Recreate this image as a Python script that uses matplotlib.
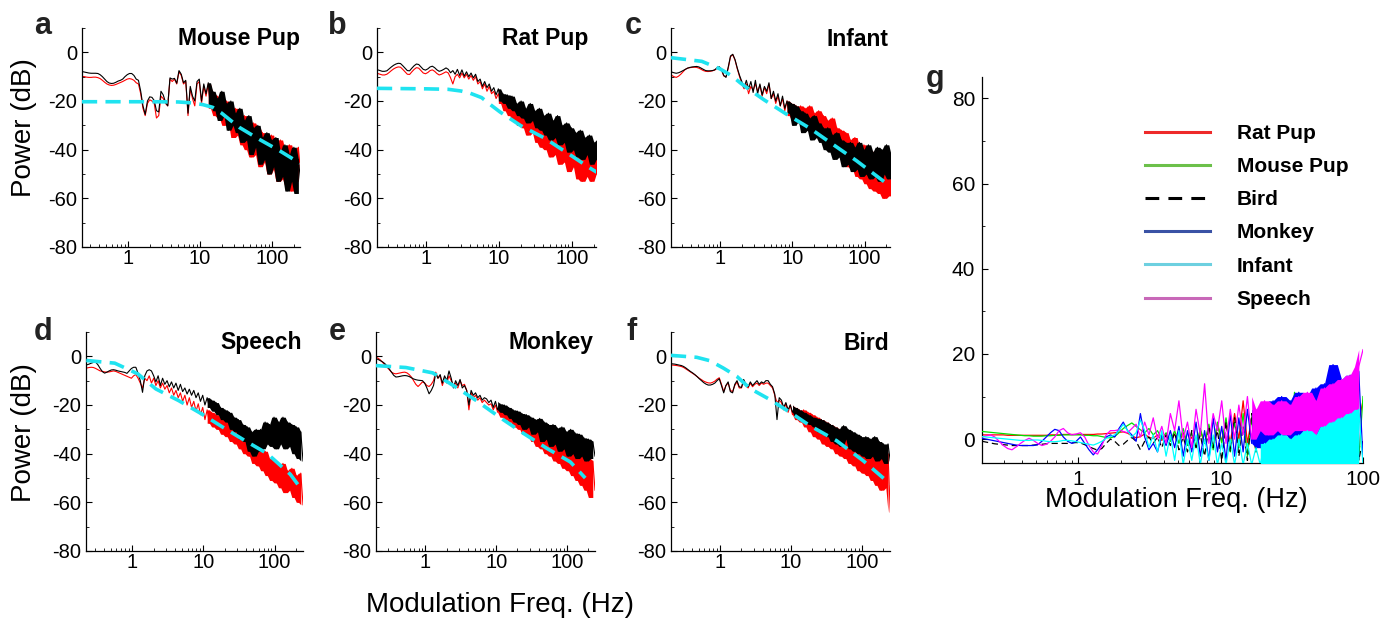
import numpy as np
import matplotlib
matplotlib.use("Agg")
import matplotlib.pyplot as plt
from matplotlib.lines import Line2D
from matplotlib.ticker import FixedLocator, LogLocator, MultipleLocator, NullFormatter

plt.rcParams['font.family'] = ['Liberation Sans', 'DejaVu Sans']
plt.rcParams['axes.unicode_minus'] = False

# ---------------- data ----------------
# frequency grid of panels a-f (Hz), log spaced 0.2 .. 250
FREQ_AF = np.geomspace(0.2, 250, 100)

MOUSE_BLACK = [-7.5, -7.7, -7.9, -8.1, -8.3, -8.5, -8.6, -8.6, -8.6, -8.7,
               -9.2, -10, -11, -12, -12.6, -12.8, -12.7, -12.3, -11.8, -11.5,
               -11, -10, -9.2, -8.7, -8.7, -9.5, -11, -11.5, -16, -22,
               -25.5, -20, -18.3, -18.5, -19.8, -24, -24.5, -16, -17.5, -20.5,
               -22, -10.5, -11, -10.7, -12.7, -7.5, -9, -12.5, -11.5, -25,
               -14, -18, -20, -12, -11, -20, -13, -17, -12.5, -22,
               -16, -24, -19, -28, -16, -26, -21, -32, -20, -30,
               -25, -33, -23, -37, -28, -36, -26, -42, -31, -39,
               -30, -46, -35, -44, -33, -50, -36, -47, -35, -53,
               -41, -51, -38, -57, -42, -53, -39, -58, -44, -53]
MOUSE_RED = [-9.5, -9.7, -9.9, -10, -10.2, -10.3, -10.3, -10.2, -10.2, -10.4,
             -10.8, -11.5, -12.3, -13, -13.4, -13.6, -13.5, -13.2, -12.8, -12.4,
             -12, -11.5, -11, -10.8, -11, -11.5, -12.5, -13, -17, -23,
             -26, -21, -19.5, -20, -21, -27, -26, -18, -19, -21,
             -22, -11, -12, -11, -13, -8, -9.5, -13, -12, -26,
             -15, -19, -22, -13, -12, -21, -14, -18, -13, -23,
             -17, -26, -18, -27, -19, -30, -20, -29, -24, -35,
             -23, -34, -28, -38, -26, -40, -31, -43, -29, -42,
             -31, -47, -33, -45, -36, -50, -34, -48, -38, -53,
             -36, -52, -40, -55, -38, -57, -41, -53, -39, -50]
MOUSE_FIT_F = [0.23, 2, 5, 8, 11, 15, 20, 35, 67, 127, 245]
MOUSE_FIT_DB = [-20.3, -20.3, -20.4, -20.8, -21.5, -22.6, -25, -30.8, -35.8, -40.4, -45.6]

RAT_BLACK = [-7, -7.2, -7.5, -7.8, -7.8, -7.6, -6.8, -6, -5.3, -4.8,
             -4.5, -4.6, -5.5, -6.5, -7.5, -7.6, -6.5, -5.5, -4.8, -5,
             -6, -7, -7.3, -6.8, -6, -5.7, -6.3, -7.2, -7.8, -7.5,
             -7, -6.4, -7, -8.4, -7.5, -9, -7, -9.5, -7.2, -9.8,
             -8, -10, -8.5, -10.5, -9, -12, -11, -14, -12, -14.5,
             -13, -16, -14.5, -17.5, -15, -20, -17, -21, -17.5, -23,
             -18, -24, -21, -26, -20, -27, -23, -29, -21, -28,
             -24, -31, -23, -32, -26, -34, -25, -36, -28, -35,
             -26, -38, -30, -37, -29, -41, -31, -40, -33, -43,
             -32, -44, -35, -42, -34, -46, -37, -44, -36, -45]
RAT_RED = [-8.5, -8.7, -9, -9.3, -9.3, -9, -8.3, -7.5, -6.8, -6.3,
           -6, -6.1, -7, -8, -9, -9.1, -8, -7, -6.3, -6.5,
           -7.5, -8.5, -8.8, -8.3, -7.5, -7.2, -7.8, -8.7, -9.3, -9,
           -8.5, -8, -8.5, -10.5, -13, -10, -9, -10.5, -8.5, -10.5,
           -9, -11, -9.5, -11.5, -10, -13, -12, -15, -13, -16,
           -14, -17, -16, -19, -17, -21, -19, -24, -20, -26,
           -21, -28, -22, -30, -25, -31, -24, -34, -26, -33,
           -28, -37, -27, -39, -31, -40, -30, -43, -33, -42,
           -32, -46, -35, -45, -37, -49, -36, -47, -40, -52,
           -39, -53, -42, -51, -41, -53, -44, -50, -43, -51]
RAT_FIT_F = [0.21, 1, 2, 3, 4, 5.75, 8, 10.3, 20, 42, 88, 185, 222]
RAT_FIT_DB = [-14.8, -15, -15.2, -15.9, -16.8, -18.6, -22, -24.5, -30.2, -35.2, -41.5, -47.9, -49.3]

INFANT_BLACK = [-8, -8.1, -8.4, -8.6, -8.4, -8, -7.5, -7, -6.5, -6.2,
                -6, -5.9, -5.8, -6, -6.5, -7, -7.5, -7.6, -7.6, -7.5,
                -7.2, -6.4, -5.9, -7, -9.5, -10.3, -6, -1.5, -0.8, -3,
                -6.5, -9.5, -12, -14.5, -11.5, -15, -12, -16.5, -11.5, -17,
                -13, -17.5, -14, -16, -12.5, -19, -16, -20, -17, -22,
                -18, -23, -20, -25, -21, -30, -22, -28, -24, -33,
                -25, -32, -27, -36, -26, -35, -29, -37, -31, -40,
                -31, -41, -34, -44, -33, -43, -36, -47, -37, -46,
                -37, -49, -39, -48, -37, -51, -40, -50, -38, -52,
                -41, -51, -39, -53, -40, -50, -38, -52, -42, -49]
INFANT_RED = [-9, -9.5, -10, -10.3, -9.8, -9, -8, -7, -6.5, -6.3,
              -6.2, -6.1, -6.2, -6.5, -7, -7.5, -7.8, -7.9, -7.8, -7.6,
              -7.3, -6.6, -6.2, -7.3, -9.7, -10, -6.5, -1.8, -1, -3.2,
              -6.8, -10, -13, -15, -13, -17, -14, -15.5, -13, -16,
              -13.5, -18, -14.5, -17, -13, -19, -17, -21, -18, -22,
              -19, -24, -20, -26, -21, -28, -22, -29, -22, -30,
              -23, -31, -22, -33, -25, -34, -24, -36, -26, -38,
              -28, -38, -27, -41, -31, -42, -32, -45, -33, -47,
              -36, -48, -35, -51, -39, -52, -38, -54, -42, -56,
              -41, -57, -44, -58, -43, -60, -46, -59, -45, -57]
INFANT_FIT_F = [0.21, 0.56, 1.0, 1.45, 1.9, 2.6, 4.06, 8.2, 17.5, 36.8, 77, 171, 224]
INFANT_FIT_DB = [-2.2, -3.7, -6.8, -9.6, -12.5, -15.5, -19.5, -25.3, -31.2, -37.9, -44.5, -52.3, -54.8]

SPEECH_BLACK = [-4, -3.8, -3.5, -3.2, -2.8, -2.5, -2.4, -3.5, -5, -6.3,
                -6.9, -6.5, -6, -5.6, -5.5, -5.7, -6, -6.2, -6.4, -6.6,
                -7, -6, -5, -4.5, -4.5, -7, -10, -14.8, -8, -6,
                -5.5, -6, -8, -10.5, -8, -12, -9, -11.5, -10, -12.5,
                -10.5, -13, -11, -14, -11.5, -14.5, -13, -15.5, -13.5, -16,
                -14, -17, -15, -18.5, -16, -20, -17, -21, -18, -22.5,
                -19, -24, -21, -26, -22, -27, -23, -30, -25, -31,
                -26, -34, -28, -35, -29, -39, -31, -41, -30, -39,
                -30, -38, -27, -36, -28, -37, -25, -38, -27, -36,
                -25, -38, -27, -37, -28, -40, -29, -42, -31, -43]
SPEECH_RED = [-5.2, -5, -4.8, -4.6, -4.5, -4.6, -5, -5.5, -6, -6.2,
              -6.4, -6.5, -6.4, -6.2, -6, -6.2, -6.6, -7, -7.4, -7.8,
              -8.2, -8.6, -9, -8, -7.5, -9, -11, -13, -9, -10,
              -8, -11, -9, -12, -10, -13, -11, -13.5, -12, -15,
              -13, -16, -14, -17, -15, -18.5, -16, -20, -17, -21,
              -18.5, -22.5, -19.5, -24, -21, -26, -22, -27.5, -23, -29,
              -24, -30, -25, -32, -26, -33, -27, -35, -28, -36,
              -29, -38, -32, -40, -33, -41, -35, -44, -36, -45,
              -38, -47, -39, -49, -42, -51, -43, -52, -45, -54,
              -44, -56, -47, -55, -46, -58, -49, -60, -48, -61]
SPEECH_FIT_F = [0.227, 0.57, 1.2, 2.15, 4.5, 9.5, 18.9, 37.6, 79, 166, 216]
SPEECH_FIT_DB = [-1.7, -2.8, -7.2, -13.4, -18.2, -23.7, -29.2, -34.5, -40, -48.5, -53]

MONKEY_BLACK = [-1, -1.3, -1.8, -2.3, -3, -4, -5.2, -6.5, -7.8, -8.5,
                -8.4, -8.2, -8, -7.9, -8, -8.3, -8.8, -9.3, -9.6, -9.8,
                -9.9, -10, -11, -13, -15.4, -14, -12, -7, -9, -7.5,
                -11, -8, -10, -6, -9, -13, -10, -12, -9.5, -13,
                -12, -14, -20, -14, -16, -15, -17, -16, -18, -17,
                -17.5, -19, -18, -21, -18.5, -22, -19.5, -23, -20, -24,
                -21, -25.5, -22, -27, -22.5, -28, -23.5, -30, -24, -29,
                -25, -32, -26, -31, -25.5, -35, -27, -34, -28, -37,
                -28, -36, -29.5, -39, -29, -38, -31, -41, -30, -40,
                -31.5, -42, -32, -41, -33.5, -43, -34, -42, -35, -41]
MONKEY_RED = [-0.3, -0.8, -1.5, -2.5, -3.5, -4.5, -5.5, -6.5, -7, -7.2,
              -7, -6.8, -6.6, -6.5, -6.8, -7.5, -8.5, -10, -11.5, -12.4,
              -11.5, -10.5, -11, -12, -12.4, -11.5, -10, -6.5, -9, -8,
              -12, -9, -11, -8, -10, -12, -11, -13, -10, -12,
              -11.5, -14, -22, -15, -17, -16, -18, -17, -19, -18,
              -19, -20, -19.5, -22, -20, -23, -21, -25, -22, -26,
              -23, -27, -24, -29, -25, -30, -26, -32, -27, -33,
              -28, -35, -29, -37, -30, -38, -31, -40, -33, -41,
              -33, -43, -35, -44, -36, -46, -37, -47, -38, -49,
              -39, -51, -40, -53, -41, -55, -42, -58, -43, -55]
MONKEY_FIT_F = [0.2, 0.53, 1.27, 2.58, 5.25, 11.3, 24.2, 52, 112, 182]
MONKEY_FIT_DB = [-3.8, -4.6, -6.8, -12.3, -18.2, -25.1, -31.6, -37.8, -43.4, -50]

BIRD_BLACK = [-3, -3.1, -3.2, -3.4, -3.6, -3.8, -4.2, -4.8, -5.5, -6.2,
              -6.8, -7.5, -8.3, -9.2, -10, -10.8, -11.4, -11.8, -11.8, -11.5,
              -11, -10, -9.2, -12, -15, -12, -10.5, -14.5, -15, -11.5,
              -10, -12.5, -12.8, -9.5, -11.5, -12.5, -10.5, -12, -11, -10,
              -11.5, -10.5, -11, -10, -10, -11.5, -12.5, -15.5, -26, -17,
              -18, -21, -19, -22, -20, -23, -21, -25, -22, -26,
              -23, -27, -24, -28, -25, -29, -25.5, -31, -26, -32,
              -27, -33, -28, -35, -29, -36, -30, -37, -28.5, -34,
              -30, -38, -31, -39, -32, -40, -33, -41, -33, -42,
              -34, -41, -33, -43, -35, -42, -36, -44, -36, -43]
BIRD_RED = [-3.5, -3.6, -3.7, -3.8, -4, -4.2, -4.6, -5.2, -5.8, -6.4,
            -7, -7.6, -8.3, -9, -9.6, -10.2, -10.6, -10.9, -11, -10.7,
            -10.2, -9.4, -8.8, -11.5, -14.5, -12, -11, -14, -14.5, -12,
            -10.5, -13, -13, -10, -12, -13, -11, -12.5, -11.5, -11,
            -12, -11, -11.5, -11, -11, -12, -13, -16, -19, -18,
            -19, -22, -19.5, -23, -20, -24, -21, -26, -22, -27,
            -22, -29, -23, -31, -24, -33, -25, -34, -26, -36,
            -27, -37, -28, -38, -29, -40, -30, -41, -31, -42,
            -32, -44, -33, -45, -34, -47, -35, -48, -36, -49,
            -37, -51, -38, -53, -38, -55, -39, -54, -40, -64]
BIRD_FIT_F = [0.204, 0.47, 0.72, 1.11, 1.72, 2.64, 5.0, 9.8, 18.7, 44, 104, 248]
BIRD_FIT_DB = [0.4, -0.4, -1.8, -4.8, -8.2, -13.2, -17.7, -23.1, -28.6, -34.7, -42.9, -52.4]

PANEL_LETTERS = ['a', 'b', 'c', 'd', 'e', 'f']
PANEL_TITLES = ['Mouse Pup', 'Rat Pup', 'Infant', 'Speech', 'Monkey', 'Bird']
Y_TICKS_AF = [-80, -60, -40, -20, 0]
X_TICKS = [1, 10, 100]
X_TICK_LABELS = ['1', '10', '100']

# panel g: difference spectra, log-spaced grid 0.21 .. 100 Hz
FREQ_G = np.geomspace(0.21, 100, 90)
G_LABELS = ['Rat Pup', 'Mouse Pup', 'Bird', 'Monkey', 'Infant', 'Speech']
G_RAT = [1, 1, 1, 1, 1, 1, 0.9, 0.9, 0.9, 0.9,
         0.9, 0.9, 0.9, 0.9, 0.9, 0.9, 1, 1, 1, 1.1,
         1.1, 1.1, 1.1, 1.1, 1.1, 1.1, 1.1, 1.2, 1.2, 1.3,
         1.4, 1.5, 1.6, 1.7, 1.4, 0.8, 0.3, 0.6, 1.2, 0.4,
         0.2, 1.0, -0.3, 0.8, -0.5, 1.2, -0.8, 1.5, -1.2, 0.5,
         -1.5, 2, -1, 3, -2, 3.5, -0.5, 4, -1, 6,
         0, 9, -1, 5, -3, 6, -2, 7, -1, 8,
         -2, 7, 0, 8, -1, 9, 1, 8, -2, 10,
         2, 10, 1, 11, 3, 12, 2, 11, 4, 9]
G_MOUSE = [1.8, 1.7, 1.6, 1.5, 1.4, 1.3, 1.2, 1.1, 1.0, 0.9,
           0.8, 0.8, 0.7, 0.7, 0.7, 0.8, 0.8, 0.9, 0.9, 1.0,
           1.0, 1.0, 1.0, 1.0, 0.9, 0.9, 0.8, 0.8, 0.6, 0.4,
           0.3, 0.6, 1.5, 2.5, 3.2, 3.8, 3.0, 2.2, 1.5, 2.5,
           1.0, 2, 0, 1.5, -0.5, 2, -1, 2.5, -1.5, 1.5,
           -2, 2.5, -1, 3.5, -2.5, 4, -1, 5, -3, 4,
           -2, 6, -4, 5, -3, 7, -5, 8, -2, 6,
           -4, 8, -3, 11, -5, 9, -2, 10, -4, 12,
           -3, 13, -1, 15, -5, 12, 0, 14, -5, 10]
G_BIRD = [-0.5, -0.7, -0.9, -1.1, -1.2, -1.3, -1.4, -1.5, -1.5, -1.5,
          -1.5, -1.5, -1.4, -1.3, -1.2, -1.1, -1.0, -1.0, -1.0, -1.0,
          -1.0, -0.9, -0.8, -0.9, -1.3, -1.8, -2.2, -2.6, -2.2, -1.0,
          0.0, -0.5, -1.5, -1.2, -0.3, 0.4, -0.5, -2.5, -0.5, 0.5,
          -1, 0.5, -2, 1, -1.5, 1.5, -2.5, 0.5, -3, 2,
          -2, 1, -4, 3, -2, 2, -5, 4, -3, 5,
          -4, 3, -5, 6, -3, 8, -5, 5, -4, 9,
          -5, 7, -3, 9, -5, 8, -4, 10, -5, 11,
          -4, 12, -5, 11, -3, 13, -5, 12, -5, 0]
G_MONKEY = [0.2, 0, -0.2, -0.4, -0.6, -0.8, -1.0, -1.2, -1.4, -1.5,
            -1.5, -1.5, -1.5, -1.3, -0.5, 0.5, 1.5, 2.3, 2.0, 0.5,
            -0.5, -1.0, -0.5, 0.5, -1.0, -2.5, -3.7, -2.5, -1.0, 0.5,
            1.0, 0.5, 2.5, 4.0, 2.0, 1.0, -0.5, 6.0, 0.5, -2.5,
            -1.0, -3, 1, -1.5, 2, -2, 3, -4, 2, -3,
            4, -4, 2, -5, 5, -3, 3, -5, 6, -4,
            5, -3, 7, -1, 6, -2, 8, 0, 9, -1,
            10, 1, 9, 0, 11, 2, 10, 1, 12, 2,
            13, 2, 17.5, 3, 14, 1, 15, 2, 16, -5]
G_INFANT = [0.6, 0.5, 0.4, 0.3, 0.2, 0.1, 0, -0.1, -0.2, -0.3,
            -0.3, -0.3, -0.2, -0.2, -0.3, -0.5, -0.6, -0.6, -0.5, -0.3,
            -0.3, -0.4, -0.6, -0.8, -1.0, -1.2, -1.4, -1.0, -0.5, 0.2,
            0.6, 1.0, 2.0, 3.5, 2.0, 0.5, 1.5, 4.5, 2.0, -2.0,
            1, -3, 2, -4, 1, -5, 2, -6, 0, -5,
            1, -6, 0, -5, 1, -6, -1, -6, 0, -6,
            0, -6, -1, -6, -2, -6, -1, -6, 0, -6,
            1, -6, 0, -6, 1, -6, 2, -6, 1, -6,
            3, -6, 4, -6, 5, -6, 6, -6, 7, -6]
G_SPEECH = [0.5, 0.8, 1.0, 0.5, -0.5, -1.5, -2.2, -2.5, -1.8, -1.0,
            -0.3, 0.2, -0.3, -1.0, -1.5, -1.2, -0.5, 0.5, 2.0, 2.5,
            1.5, 1.0, 1.2, 1.5, 0.5, -1.5, -3.0, -3.5, -1.5, 1.0,
            2.0, 2.0, 2.2, 1.8, 1.5, 2.5, 3.5, 0.5, 4, 1,
            5, 0, 3, -1, 6, 2, 9, 0, 4, -2,
            7, 1, 13, -1, 6, 2, 9, -1, 7, 0,
            8, 1, 10, 0, 7, 2, 9, 1, 8, 2,
            9, 1, 8, 2, 10, 2, 11, 1, 9, 3,
            12, 2, 13, 3, 14, 2, 15, 4, 17, 21]
Y_TICKS_G = [0, 20, 40, 60, 80]

# ---------------- figure ----------------
W, H = 1393, 619
fig = plt.figure(figsize=(W / 100, H / 100), dpi=100)


def px_axes(l, t, r, b):
    return fig.add_axes([l / W, 1 - b / H, (r - l) / W, (b - t) / H])


def style_axes(ax, fs, pad_x, pad_y):
    for s in ('top', 'right'):
        ax.spines[s].set_visible(False)
    for s in ('left', 'bottom'):
        ax.spines[s].set_linewidth(0.9)
    ax.set_xscale('log')
    ax.xaxis.set_major_locator(FixedLocator(X_TICKS))
    ax.set_xticklabels(X_TICK_LABELS)
    ax.xaxis.set_minor_locator(LogLocator(base=10, subs=np.arange(2, 10)))
    ax.xaxis.set_minor_formatter(NullFormatter())
    ax.yaxis.set_minor_locator(MultipleLocator(10))
    ax.tick_params(which='both', direction='in', labelsize=fs)
    ax.tick_params(which='major', length=4, width=0.8)
    ax.tick_params(which='minor', length=2.5, width=0.6)
    ax.tick_params(axis='x', pad=pad_x)
    ax.tick_params(axis='y', pad=pad_y)


def noisy_trace(ax, x, y, start, color, lw, z, **kw):
    """Plot a trace; where it is dense noise, shade between neighbouring extremes."""
    y = np.asarray(y, dtype=float)
    ax.plot(x, y, color=color, lw=lw, zorder=z, **kw)
    if start is None:
        return
    seg = y[start - 1:]
    hi = np.maximum(np.maximum(seg[:-2], seg[1:-1]), seg[2:])
    lo = np.minimum(np.minimum(seg[:-2], seg[1:-1]), seg[2:])
    ax.fill_between(x[start:start + len(hi)], lo, hi, color=color, lw=0, zorder=z)


boxes = [(82, 28, 300, 247), (377, 28, 596, 247), (671, 28, 890, 247),
         (86, 332, 303, 551), (376, 332, 595, 551), (671, 332, 890, 551)]
xlims = [(0.23, 245), (0.21, 215), (0.21, 225), (0.225, 250), (0.2, 250), (0.204, 248)]
blacks = [MOUSE_BLACK, RAT_BLACK, INFANT_BLACK, SPEECH_BLACK, MONKEY_BLACK, BIRD_BLACK]
reds = [MOUSE_RED, RAT_RED, INFANT_RED, SPEECH_RED, MONKEY_RED, BIRD_RED]
fits = [(MOUSE_FIT_F, MOUSE_FIT_DB), (RAT_FIT_F, RAT_FIT_DB), (INFANT_FIT_F, INFANT_FIT_DB),
        (SPEECH_FIT_F, SPEECH_FIT_DB), (MONKEY_FIT_F, MONKEY_FIT_DB), (BIRD_FIT_F, BIRD_FIT_DB)]
dense_start = [58, 54, 52, 56, 55, 55]
title_right = [300, 588, 889, 302, 594, 889]
letter_pos = [(43, 34), (337, 34), (633, 34), (43, 340), (337, 340), (632, 340)]

for k in range(6):
    l, t, r, b = boxes[k]
    ax = px_axes(l, t, r, b)
    noisy_trace(ax, FREQ_AF, reds[k], dense_start[k], '#ff0000', 0.8, 2)
    noisy_trace(ax, FREQ_AF, blacks[k], dense_start[k], 'black', 0.8, 3)
    ax.plot(fits[k][0], fits[k][1], color='#1fe3f0', lw=2.6,
            linestyle=(0, (4.2, 2.3)), zorder=4)
    ax.set_xlim(*xlims[k])
    ax.set_ylim(-80, 10)
    ax.set_yticks(Y_TICKS_AF)
    style_axes(ax, 14.5, 1.5, 3.5)
    fig.text(title_right[k] / W, 1 - (t + 11) / H, PANEL_TITLES[k], ha='right', va='center',
             fontsize=16.5, fontweight='bold')
    fig.text(letter_pos[k][0] / W, 1 - letter_pos[k][1] / H, PANEL_LETTERS[k], ha='center',
             va='baseline', fontsize=22, fontweight='bold', color='#222222')

fig.text(24 / W, 1 - 128 / H, 'Power (dB)', rotation=90, ha='center', va='center', fontsize=20)
fig.text(24 / W, 1 - 433 / H, 'Power (dB)', rotation=90, ha='center', va='center', fontsize=20)
fig.text(500 / W, 1 - 605 / H, 'Modulation Freq. (Hz)', ha='center', va='center', fontsize=20)

# panel g
axg = px_axes(982, 77, 1363, 463)
noisy_trace(axg, FREQ_G, G_RAT, None, '#ff0000', 0.9, 2)
noisy_trace(axg, FREQ_G, G_MOUSE, None, '#00e000', 0.9, 3)
axg.plot(FREQ_G, G_BIRD, color='black', lw=0.9, linestyle=(0, (5, 3)), zorder=4)
noisy_trace(axg, FREQ_G, G_MONKEY, 63, '#0000ff', 0.9, 5)
noisy_trace(axg, FREQ_G, G_SPEECH, 63, '#ff00ff', 0.9, 6)
noisy_trace(axg, FREQ_G, G_INFANT, 65, '#00ffff', 0.9, 7)
axg.set_xlim(0.21, 100)
axg.set_ylim(-5.6, 85)
axg.set_yticks(Y_TICKS_G)
style_axes(axg, 15, 5, 5)
fig.text(935 / W, 1 - 87 / H, 'g', ha='center', va='baseline', fontsize=22,
         fontweight='bold', color='#222222')
fig.text(1176 / W, 1 - 500 / H, 'Modulation Freq. (Hz)', ha='center', va='center', fontsize=19.5)

leg_colors = ['#ee2a2a', '#6cc04a', 'black', '#3a52a5', '#6dd0e0', '#c868b8']
handles = []
for c, lab in zip(leg_colors, G_LABELS):
    if lab == 'Bird':
        handles.append(Line2D([], [], color=c, lw=2.2, linestyle=(0, (4.5, 3))))
    else:
        handles.append(Line2D([], [], color=c, lw=2.2))
axg.legend(handles=handles, labels=G_LABELS, loc='upper left',
           bbox_to_anchor=(1145 / W, 1 - 124 / H), bbox_transform=fig.transFigure,
           frameon=False, borderpad=0, borderaxespad=0, handlelength=3.1,
           handletextpad=1.3, labelspacing=0.68,
           prop={'weight': 'bold', 'size': 15})

fig.savefig('out.png', dpi=100)
